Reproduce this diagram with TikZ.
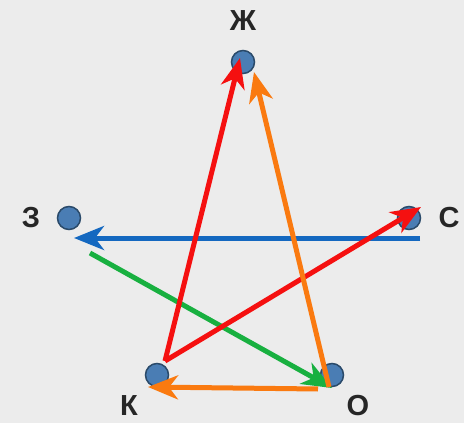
\documentclass[tikz,border=0pt]{standalone}
\usepackage{fontspec}
\setmainfont{Liberation Sans}
\usetikzlibrary{arrows.meta}
\definecolor{bg}{HTML}{ECECEC}
\definecolor{dotfill}{HTML}{4A7DB4}
\definecolor{dotline}{HTML}{2A4A6A}
\definecolor{ared}{HTML}{F51010}
\definecolor{aorange}{HTML}{FA7A10}
\definecolor{ablue}{HTML}{1468C0}
\definecolor{agreen}{HTML}{18B040}
\tikzset{
  pt/.style={circle, minimum size=23pt, inner sep=0pt, fill=dotfill, draw=dotline, line width=1.5pt},
  lbl/.style={font=\bfseries\fontsize{29}{29}\selectfont, text=black!85, inner sep=0pt},
  arr/.style={line width=5pt, -{Stealth[length=30pt, width=24pt, inset=9pt]}}
}
\begin{document}
\begin{tikzpicture}[x=1pt,y=-1pt]
\fill[bg] (0,0) rectangle (464,423);
\useasboundingbox (0,0) rectangle (464,423);
\node[pt] (Zh) at (243,62) {};
\node[pt] (Z) at (69,218) {};
\node[pt] (S) at (409,218) {};
\node[pt] (K) at (157,375) {};
\node[pt] (O) at (332,375) {};
\node[lbl] (lZh) at (243,21) {Ж};
\node[lbl] (lZ) at (31,218) {З};
\node[lbl] (lS) at (449,218) {С};
\node[lbl] (lK) at (129,406) {К};
\node[lbl] (lO) at (358,406) {О};
\coordinate (kA) at (165,361);
\coordinate (zhA) at (240,58);
\coordinate (oA) at (329,387);
\coordinate (zhB) at (254,72);
\coordinate (sA) at (421,207);
\coordinate (sB) at (420,238);
\coordinate (zA) at (74,238);
\coordinate (zB) at (90,253);
\coordinate (oB) at (332,388);
\coordinate (oC) at (318,389);
\coordinate (kB) at (148,387);
\draw[arr, ablue] (sB) -- (zA);
\draw[arr, agreen] (zB) -- (oB);
\draw[arr, ared] (kA) -- (sA);
\draw[arr, aorange] (oA) -- (zhB);
\draw[arr, ared] (kA) -- (zhA);
\draw[arr, aorange] (oC) -- (kB);
\end{tikzpicture}
\end{document}
